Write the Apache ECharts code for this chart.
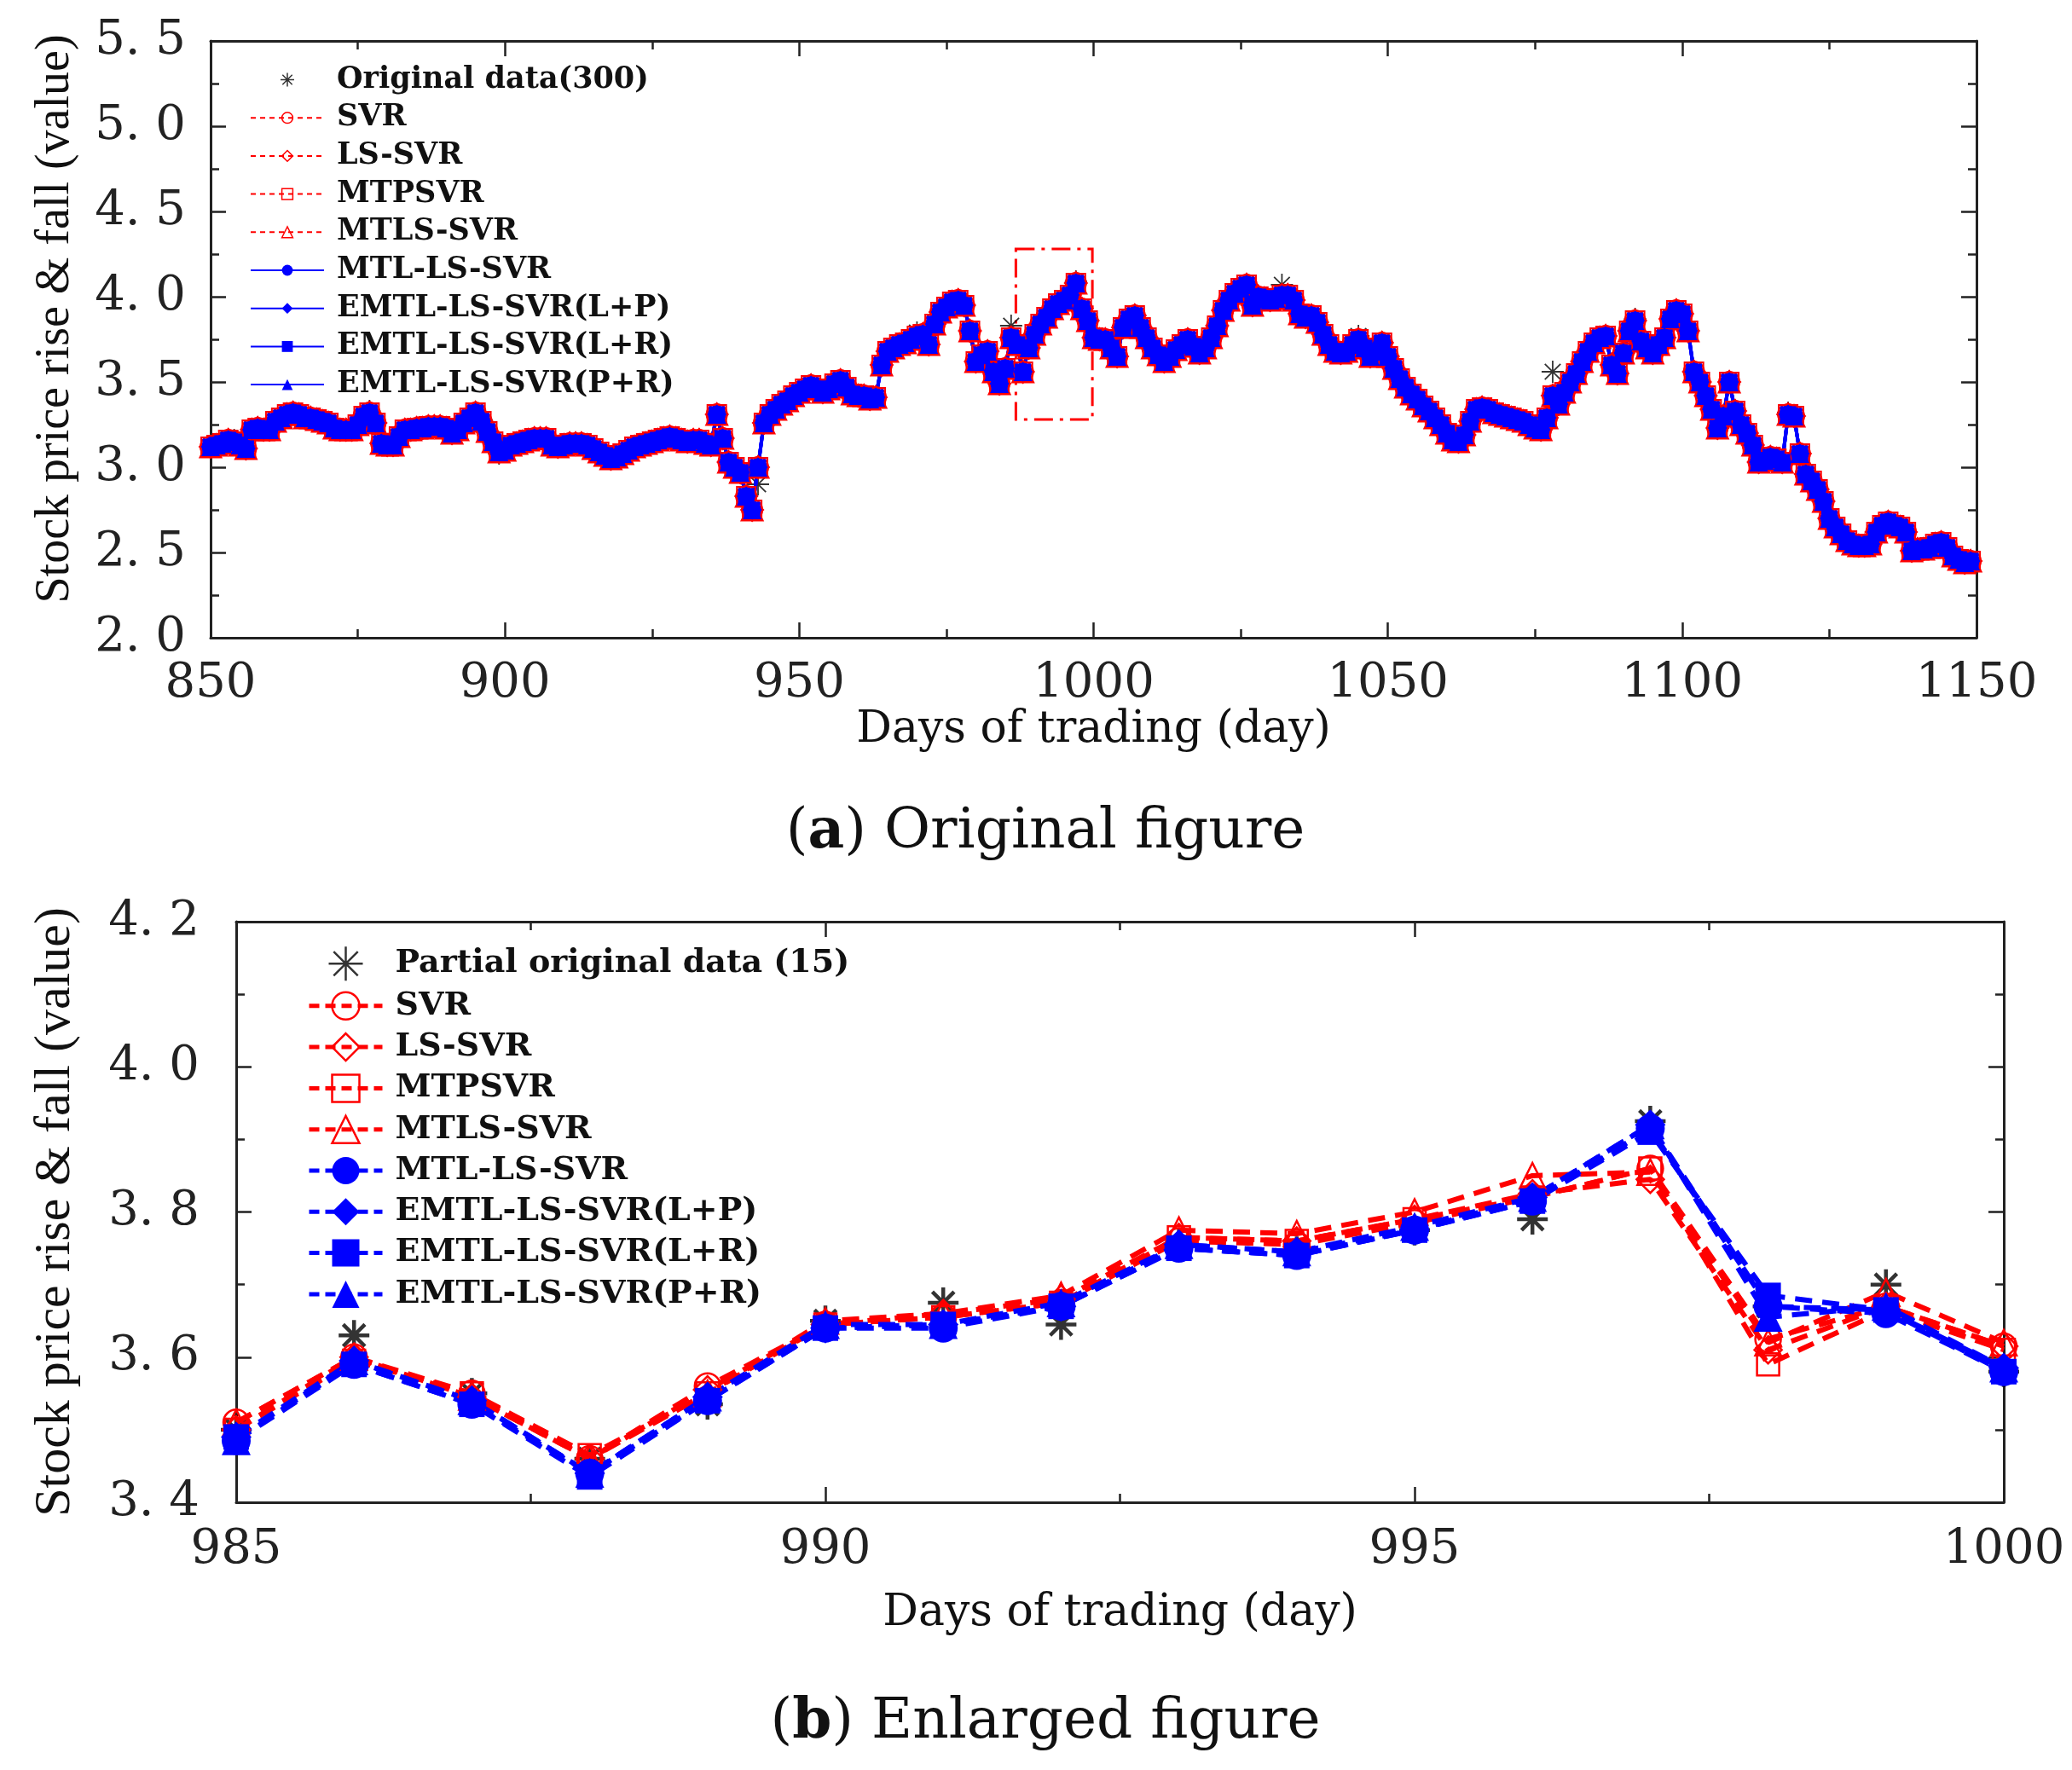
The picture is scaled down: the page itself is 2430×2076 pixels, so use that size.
<!DOCTYPE html>
<html>
<head>
<meta charset="utf-8">
<title>Stock price rise & fall</title>
<script src="https://cdn.jsdelivr.net/npm/echarts@6/dist/echarts.min.js"></script>
<style>
html, body { margin: 0; padding: 0; background: #fff; }
#chart { width: 2430px; height: 2076px; }
</style>
</head>
<body>
<div id="chart"></div>
<script>
// ---- data (a): days 850..1149 ----
var topStartDay = 850;
var topOrig = [
    3.12, 3.13, 3.14, 3.16, 3.16, 3.13, 3.11, 3.22, 3.23, 3.22,
    3.22, 3.27, 3.29, 3.31, 3.32, 3.31, 3.29, 3.29, 3.28, 3.27,
    3.26, 3.24, 3.22, 3.22, 3.22, 3.25, 3.30, 3.33, 3.26, 3.14,
    3.13, 3.13, 3.18, 3.22, 3.22, 3.23, 3.23, 3.24, 3.24, 3.24,
    3.23, 3.20, 3.22, 3.26, 3.29, 3.32, 3.28, 3.21, 3.15, 3.08,
    3.10, 3.13, 3.14, 3.15, 3.16, 3.17, 3.17, 3.17, 3.13, 3.12,
    3.13, 3.14, 3.14, 3.14, 3.13, 3.11, 3.09, 3.07, 3.05, 3.06,
    3.08, 3.10, 3.12, 3.13, 3.14, 3.15, 3.16, 3.17, 3.18, 3.17,
    3.16, 3.15, 3.16, 3.16, 3.14, 3.13, 3.31, 3.17, 3.03, 3.00,
    2.97, 2.83, 2.75, 2.90, 3.26, 3.31, 3.34, 3.37, 3.39, 3.42,
    3.44, 3.46, 3.48, 3.46, 3.44, 3.46, 3.49, 3.51, 3.47, 3.43,
    3.42, 3.42, 3.41, 3.41, 3.60, 3.68, 3.70, 3.72, 3.73, 3.75,
    3.79, 3.78, 3.72, 3.84, 3.90, 3.94, 3.97, 3.98, 3.95, 3.80,
    3.62, 3.66, 3.68, 3.56, 3.49, 3.58, 3.83, 3.72, 3.56, 3.70,
    3.78, 3.84, 3.88, 3.93, 3.96, 3.98, 4.01, 4.09, 3.93, 3.86,
    3.76, 3.75, 3.75, 3.70, 3.65, 3.83, 3.87, 3.89, 3.82, 3.76,
    3.70, 3.66, 3.62, 3.65, 3.69, 3.72, 3.75, 3.71, 3.67, 3.70,
    3.76, 3.83, 3.92, 3.98, 4.02, 4.05, 4.07, 3.95, 4.00, 3.99,
    3.98, 3.99, 4.07, 4.01, 3.98, 3.90, 3.88, 3.89, 3.85, 3.78,
    3.72, 3.68, 3.67, 3.68, 3.72, 3.77, 3.70, 3.65, 3.68, 3.73,
    3.65, 3.58, 3.52, 3.47, 3.43, 3.40, 3.36, 3.33, 3.29, 3.25,
    3.20, 3.16, 3.15, 3.19, 3.27, 3.34, 3.35, 3.34, 3.32, 3.31,
    3.30, 3.29, 3.28, 3.27, 3.25, 3.23, 3.22, 3.29, 3.56, 3.37,
    3.44, 3.50, 3.55, 3.62, 3.68, 3.73, 3.76, 3.77, 3.60, 3.55,
    3.67, 3.80, 3.87, 3.74, 3.70, 3.67, 3.72, 3.76, 3.87, 3.92,
    3.90, 3.80, 3.56, 3.50, 3.42, 3.34, 3.23, 3.30, 3.50, 3.33,
    3.25, 3.20, 3.13, 3.03, 3.04, 3.06, 3.05, 3.03, 3.32, 3.30,
    3.08, 2.96, 2.92, 2.87, 2.80, 2.70, 2.65, 2.61, 2.57, 2.55,
    2.54, 2.54, 2.55, 2.62, 2.66, 2.67, 2.66, 2.65, 2.62, 2.51,
    2.52, 2.52, 2.53, 2.55, 2.56, 2.53, 2.48, 2.46, 2.44, 2.45
];
// the fitted curves of all models overlap in (a)
var topFit = [
    3.12, 3.13, 3.14, 3.16, 3.15, 3.13, 3.11, 3.22, 3.23, 3.22,
    3.22, 3.27, 3.29, 3.31, 3.32, 3.31, 3.29, 3.29, 3.28, 3.27,
    3.26, 3.23, 3.22, 3.22, 3.22, 3.25, 3.30, 3.32, 3.26, 3.14,
    3.13, 3.13, 3.18, 3.22, 3.22, 3.23, 3.23, 3.24, 3.24, 3.24,
    3.23, 3.20, 3.22, 3.26, 3.29, 3.32, 3.27, 3.21, 3.15, 3.09,
    3.10, 3.13, 3.14, 3.15, 3.16, 3.17, 3.17, 3.17, 3.13, 3.12,
    3.13, 3.14, 3.14, 3.14, 3.13, 3.11, 3.09, 3.07, 3.05, 3.06,
    3.08, 3.10, 3.12, 3.13, 3.14, 3.15, 3.16, 3.17, 3.18, 3.17,
    3.16, 3.15, 3.16, 3.16, 3.14, 3.13, 3.31, 3.17, 3.03, 3.00,
    2.97, 2.83, 2.75, 3.00, 3.26, 3.31, 3.34, 3.37, 3.39, 3.42,
    3.44, 3.46, 3.48, 3.46, 3.44, 3.46, 3.49, 3.51, 3.47, 3.43,
    3.42, 3.42, 3.40, 3.41, 3.60, 3.68, 3.70, 3.72, 3.73, 3.75,
    3.77, 3.78, 3.72, 3.84, 3.91, 3.94, 3.97, 3.98, 3.95, 3.80,
    3.62, 3.66, 3.68, 3.56, 3.49, 3.58, 3.76, 3.72, 3.56, 3.70,
    3.78, 3.84, 3.88, 3.93, 3.96, 3.98, 4.01, 4.08, 3.93, 3.86,
    3.76, 3.75, 3.75, 3.70, 3.65, 3.82, 3.87, 3.89, 3.82, 3.76,
    3.70, 3.66, 3.62, 3.65, 3.69, 3.72, 3.75, 3.71, 3.67, 3.70,
    3.76, 3.83, 3.92, 3.98, 4.02, 4.05, 4.07, 3.95, 4.00, 3.99,
    3.98, 3.99, 4.01, 4.01, 3.98, 3.90, 3.88, 3.89, 3.85, 3.78,
    3.72, 3.68, 3.67, 3.68, 3.72, 3.75, 3.70, 3.65, 3.68, 3.73,
    3.65, 3.58, 3.52, 3.47, 3.43, 3.40, 3.36, 3.33, 3.29, 3.25,
    3.20, 3.16, 3.15, 3.19, 3.27, 3.34, 3.35, 3.34, 3.32, 3.31,
    3.30, 3.29, 3.28, 3.27, 3.25, 3.23, 3.22, 3.29, 3.42, 3.37,
    3.44, 3.50, 3.55, 3.62, 3.68, 3.73, 3.76, 3.77, 3.60, 3.55,
    3.67, 3.80, 3.86, 3.74, 3.70, 3.67, 3.72, 3.76, 3.87, 3.92,
    3.90, 3.80, 3.56, 3.50, 3.42, 3.34, 3.23, 3.30, 3.50, 3.33,
    3.25, 3.20, 3.13, 3.03, 3.04, 3.06, 3.05, 3.03, 3.31, 3.30,
    3.08, 2.96, 2.92, 2.87, 2.80, 2.70, 2.65, 2.61, 2.57, 2.55,
    2.54, 2.54, 2.55, 2.62, 2.66, 2.68, 2.66, 2.65, 2.62, 2.51,
    2.52, 2.52, 2.53, 2.55, 2.56, 2.53, 2.48, 2.46, 2.44, 2.45
];

// ---- data (b): days 985..1000 ----
var zoomDays = [985, 986, 987, 988, 989, 990, 991, 992, 993, 994, 995, 996, 997, 998, 999, 1000];
var zoomOrig    = [3.50, 3.63, 3.55, 3.46, 3.535, 3.65, 3.675, 3.645, 3.755, 3.745, 3.775, 3.79, 3.925, 3.67, 3.70, 3.58];
var zoomSVR     = [3.51, 3.60, 3.55, 3.46, 3.56, 3.645, 3.655, 3.675, 3.76, 3.755, 3.785, 3.82, 3.86, 3.625, 3.67, 3.615];
var zoomLSSVR   = [3.50, 3.60, 3.545, 3.46, 3.555, 3.645, 3.66, 3.68, 3.765, 3.76, 3.79, 3.825, 3.845, 3.61, 3.67, 3.615];
var zoomMTPSVR  = [3.50, 3.595, 3.55, 3.465, 3.55, 3.645, 3.655, 3.675, 3.765, 3.76, 3.79, 3.82, 3.86, 3.59, 3.665, 3.61];
var zoomMTLSSVR = [3.51, 3.60, 3.545, 3.46, 3.55, 3.65, 3.66, 3.685, 3.775, 3.77, 3.80, 3.85, 3.855, 3.62, 3.69, 3.62];
var zoomMTL     = [3.485, 3.59, 3.535, 3.44, 3.54, 3.64, 3.64, 3.67, 3.75, 3.74, 3.775, 3.815, 3.915, 3.67, 3.66, 3.58];
var zoomLP      = [3.49, 3.595, 3.54, 3.44, 3.545, 3.64, 3.645, 3.67, 3.755, 3.745, 3.775, 3.82, 3.92, 3.67, 3.665, 3.585];
var zoomLR      = [3.49, 3.59, 3.535, 3.435, 3.54, 3.64, 3.645, 3.67, 3.75, 3.74, 3.775, 3.815, 3.91, 3.685, 3.665, 3.58];
var zoomPR      = [3.485, 3.595, 3.54, 3.44, 3.545, 3.645, 3.645, 3.675, 3.755, 3.745, 3.78, 3.82, 3.92, 3.655, 3.67, 3.585];

var modelNames = ['SVR', 'LS-SVR', 'MTPSVR', 'MTLS-SVR', 'MTL-LS-SVR',
    'EMTL-LS-SVR(L+P)', 'EMTL-LS-SVR(L+R)', 'EMTL-LS-SVR(P+R)'];
var zoomModels = [zoomSVR, zoomLSSVR, zoomMTPSVR, zoomMTLSSVR, zoomMTL, zoomLP, zoomLR, zoomPR];
var modelSymbols = ['circle', 'diamond', 'rect', 'triangle', 'circle', 'diamond', 'rect', 'triangle'];

var RED = '#ff0000';
var BLUE = '#0000ff';
var INK = '#222';
var STAR = 'path://M0 -10L0 10M-10 0L10 0M-7.1 -7.1L7.1 7.1M-7.1 7.1L7.1 -7.1';

var topDays = topOrig.map(function (v, i) { return topStartDay + i; });

var toPairs = function (days, values) {
    return days.map(function (d, i) { return [d, values[i]]; });
};

var yFormatter = function (v) {
    return v.toFixed(1).replace('.', '. ');
};
var xFormatter = function (v) {
    return String(v);
};

var makeXAxes = function (grid, min, max, interval, labelMargin, nameGap) {
    var axes = [];
    ['bottom', 'top'].forEach(function (pos) {
        axes.push({
            gridIndex: grid, type: 'value', position: pos,
            min: min, max: max, interval: interval,
            name: pos == 'bottom' ? 'Days of trading (day)' : '',
            nameLocation: 'middle', nameGap: nameGap,
            nameTextStyle: {fontFamily: 'DejaVu Serif', fontSize: 52, color: '#111'},
            axisLine: {show: true, onZero: false, lineStyle: {color: INK, width: 3}},
            axisTick: {show: true, inside: true, length: 18, lineStyle: {color: INK, width: 2.5}},
            minorTick: {show: true, splitNumber: 2, length: 10, lineStyle: {color: INK, width: 2.5}},
            splitLine: {show: false},
            axisLabel: {
                show: pos == 'bottom', margin: labelMargin, formatter: xFormatter,
                fontFamily: 'DejaVu Serif', fontSize: 56, color: INK,
                showMinLabel: true, showMaxLabel: true
            }
        });
    });
    return axes;
};

var makeYAxes = function (grid, min, max, interval, labelMargin, nameGap, nameSize, namePad) {
    var axes = [];
    ['left', 'right'].forEach(function (pos) {
        axes.push({
            gridIndex: grid, type: 'value', position: pos,
            min: min, max: max, interval: interval,
            name: pos == 'left' ? 'Stock price rise & fall (value)' : '',
            nameLocation: 'middle', nameGap: nameGap,
            nameTextStyle: {fontFamily: 'Liberation Serif', fontSize: nameSize, color: '#111', padding: namePad},
            axisLine: {show: true, onZero: false, lineStyle: {color: INK, width: 3}},
            axisTick: {show: true, inside: true, length: 18, lineStyle: {color: INK, width: 2.5}},
            minorTick: {show: true, splitNumber: 2, length: 10, lineStyle: {color: INK, width: 2.5}},
            splitLine: {show: false},
            axisLabel: {
                show: pos == 'left', margin: labelMargin, formatter: yFormatter,
                fontFamily: 'DejaVu Serif', fontSize: 56, color: INK,
                showMinLabel: true, showMaxLabel: true
            }
        });
    });
    return axes;
};

var series = [];

// (a) original figure
series.push({
    name: 'Original data(300)', type: 'scatter', xAxisIndex: 0, yAxisIndex: 0,
    symbol: STAR, symbolSize: 26,
    itemStyle: {color: 'rgba(0,0,0,0)', borderColor: '#000', borderWidth: 1.8},
    data: toPairs(topDays, topOrig),
    markArea: {
        silent: true,
        label: {show: false},
        itemStyle: {color: 'rgba(0,0,0,0)', borderColor: RED, borderWidth: 3, borderType: [22, 8, 4, 8]},
        data: [[{coord: [986.8, 4.28]}, {coord: [999.8, 3.28]}]]
    }
});
var topSizes = [24, 26, 22, 25, 21, 23, 19, 22];
modelNames.forEach(function (name, i) {
    var red = i < 4;
    series.push({
        name: name, type: 'line', xAxisIndex: 0, yAxisIndex: 0,
        symbol: modelSymbols[i], symbolSize: topSizes[i],
        showSymbol: true,
        lineStyle: red ? {color: RED, width: 2, type: [6, 5]} : {color: BLUE, width: 4, type: 'solid'},
        itemStyle: red ? {color: 'rgba(255,255,255,0)', borderColor: RED, borderWidth: 2} : {color: BLUE},
        data: toPairs(topDays, topFit)
    });
});

// (b) enlarged figure
series.push({
    name: 'Partial original data (15)', type: 'scatter', xAxisIndex: 2, yAxisIndex: 2,
    symbol: STAR, symbolSize: 36,
    itemStyle: {color: 'rgba(0,0,0,0)', borderColor: '#000', borderWidth: 4.5},
    data: toPairs(zoomDays, zoomOrig)
});
var zoomSizes = [30, 32, 26, 30, 34, 36, 30, 34];
modelNames.forEach(function (name, i) {
    var red = i < 4;
    series.push({
        name: name, type: 'line', xAxisIndex: 2, yAxisIndex: 2,
        symbol: modelSymbols[i], symbolSize: zoomSizes[i],
        showSymbol: true,
        lineStyle: {color: red ? RED : BLUE, width: 6, type: [20, 12]},
        itemStyle: red ? {color: 'rgba(255,255,255,0)', borderColor: RED, borderWidth: 2.5} : {color: BLUE},
        data: toPairs(zoomDays, zoomModels[i])
    });
});

var legendText = function (size, lh) {
    return {fontFamily: 'DejaVu Serif', fontWeight: 'bold', fontSize: size, lineHeight: lh,
        color: '#111', padding: [0, 0, 0, 10]};
};

var option = {
    animation: false,
    backgroundColor: '#fff',
    grid: [
        {left: 247, top: 48, width: 2071, height: 700, containLabel: false, outerBoundsMode: 'none'},
        {left: 277, top: 1081, width: 2073, height: 681, containLabel: false, outerBoundsMode: 'none'}
    ],
    xAxis: makeXAxes(0, 850, 1150, 50, 26, 78).concat(makeXAxes(1, 985, 1000, 5, 28, 104)),
    yAxis: makeYAxes(0, 2.0, 5.5, 0.5, 29, 154, 56, [0, 0, 0, 48]).concat(makeYAxes(1, 3.4, 4.2, 0.2, 43, 182, 60, 0)),
    legend: [
        {
            orient: 'vertical', left: 288, top: 71,
            itemWidth: 86, itemHeight: 16, itemGap: 9.7,
            textStyle: legendText(35, 35),
            itemStyle: {borderWidth: 1.5},
            data: ['Original data(300)'].concat(modelNames)
        },
        {
            orient: 'vertical', left: 355, top: 1104,
            itemWidth: 86, itemHeight: 40, itemGap: 8.3,
            textStyle: legendText(38, 40),
            lineStyle: {width: 5, type: [12, 7]},
            itemStyle: {borderWidth: 2.5},
            data: ['Partial original data (15)'].concat(modelNames)
        }
    ],
    graphic: [
        {
            type: 'text', x: 1226, y: 977,
            style: {
                text: '({b|a}) Original figure', fill: '#111',
                fontFamily: 'DejaVu Serif', fontSize: 66,
                align: 'center', verticalAlign: 'middle',
                rich: {b: {fontFamily: 'DejaVu Serif', fontSize: 66, fontWeight: 'bold', fill: '#111'}}
            }
        },
        {
            type: 'text', x: 1226, y: 2021,
            style: {
                text: '({b|b}) Enlarged figure', fill: '#111',
                fontFamily: 'DejaVu Serif', fontSize: 66,
                align: 'center', verticalAlign: 'middle',
                rich: {b: {fontFamily: 'DejaVu Serif', fontSize: 66, fontWeight: 'bold', fill: '#111'}}
            }
        }
    ],
    series: series
};

var chart = echarts.init(document.getElementById('chart'));
chart.setOption(option);
</script>
</body>
</html>
